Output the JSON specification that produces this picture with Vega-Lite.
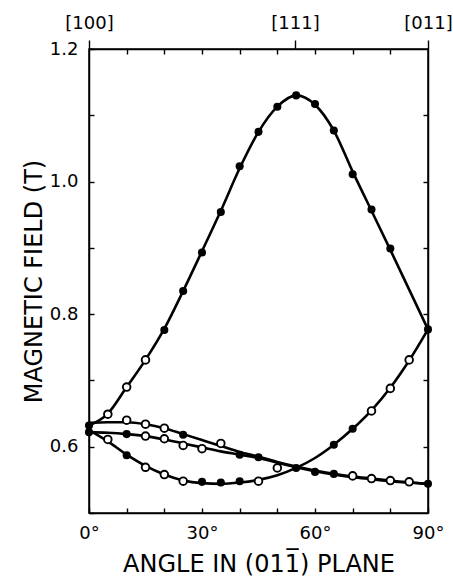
{
  "$schema": "https://vega.github.io/schema/vega-lite/v6.json",
  "autosize": "none",
  "width": 339,
  "height": 464,
  "padding": {"left": 89, "top": 49, "right": 25, "bottom": 67},
  "background": "white",
  "config": {
    "view": {"stroke": "black", "strokeWidth": 1.5},
    "axis": {"domainColor": "black", "domainWidth": 1.5, "tickColor": "black", "tickWidth": 1.4, "labelColor": "black", "titleColor": "black", "labelFont": "DejaVu Sans", "titleFont": "DejaVu Sans", "labelFontSize": 18, "titleFontSize": 24, "titleFontWeight": "normal", "grid": false, "labelOverlap": false, "labelFlush": false}
  },
  "datasets": {
    "curves": [
      {"curve": "A", "angle": 0, "field": 0.632}, {"curve": "A", "angle": 5, "field": 0.650}, {"curve": "A", "angle": 10, "field": 0.690}, {"curve": "A", "angle": 15, "field": 0.731}, {"curve": "A", "angle": 20, "field": 0.778}, {"curve": "A", "angle": 25, "field": 0.835}, {"curve": "A", "angle": 30, "field": 0.895}, {"curve": "A", "angle": 35, "field": 0.956}, {"curve": "A", "angle": 40, "field": 1.020}, {"curve": "A", "angle": 45, "field": 1.075}, {"curve": "A", "angle": 50, "field": 1.113}, {"curve": "A", "angle": 55, "field": 1.130}, {"curve": "A", "angle": 60, "field": 1.116}, {"curve": "A", "angle": 65, "field": 1.077}, {"curve": "A", "angle": 70, "field": 1.015}, {"curve": "A", "angle": 75, "field": 0.956}, {"curve": "A", "angle": 80, "field": 0.897}, {"curve": "A", "angle": 85, "field": 0.837}, {"curve": "A", "angle": 90, "field": 0.777},
      {"curve": "B", "angle": 0, "field": 0.625}, {"curve": "B", "angle": 5, "field": 0.608}, {"curve": "B", "angle": 10, "field": 0.588}, {"curve": "B", "angle": 15, "field": 0.571}, {"curve": "B", "angle": 20, "field": 0.558}, {"curve": "B", "angle": 25, "field": 0.549}, {"curve": "B", "angle": 30, "field": 0.545}, {"curve": "B", "angle": 35, "field": 0.544}, {"curve": "B", "angle": 40, "field": 0.546}, {"curve": "B", "angle": 45, "field": 0.550}, {"curve": "B", "angle": 50, "field": 0.557}, {"curve": "B", "angle": 55, "field": 0.568}, {"curve": "B", "angle": 60, "field": 0.583}, {"curve": "B", "angle": 65, "field": 0.603}, {"curve": "B", "angle": 70, "field": 0.627}, {"curve": "B", "angle": 75, "field": 0.655}, {"curve": "B", "angle": 80, "field": 0.689}, {"curve": "B", "angle": 85, "field": 0.730}, {"curve": "B", "angle": 90, "field": 0.777},
      {"curve": "C", "angle": 0, "field": 0.636}, {"curve": "C", "angle": 5, "field": 0.637}, {"curve": "C", "angle": 10, "field": 0.637}, {"curve": "C", "angle": 15, "field": 0.634}, {"curve": "C", "angle": 20, "field": 0.628}, {"curve": "C", "angle": 25, "field": 0.619}, {"curve": "C", "angle": 30, "field": 0.610}, {"curve": "C", "angle": 35, "field": 0.601}, {"curve": "C", "angle": 40, "field": 0.592}, {"curve": "C", "angle": 45, "field": 0.585}, {"curve": "C", "angle": 50, "field": 0.577}, {"curve": "C", "angle": 55, "field": 0.570}, {"curve": "C", "angle": 60, "field": 0.564}, {"curve": "C", "angle": 65, "field": 0.559}, {"curve": "C", "angle": 70, "field": 0.555}, {"curve": "C", "angle": 75, "field": 0.552}, {"curve": "C", "angle": 80, "field": 0.549}, {"curve": "C", "angle": 85, "field": 0.546}, {"curve": "C", "angle": 90, "field": 0.544},
      {"curve": "D", "angle": 0, "field": 0.622}, {"curve": "D", "angle": 5, "field": 0.621}, {"curve": "D", "angle": 10, "field": 0.619}, {"curve": "D", "angle": 15, "field": 0.616}, {"curve": "D", "angle": 20, "field": 0.611}, {"curve": "D", "angle": 25, "field": 0.605}, {"curve": "D", "angle": 30, "field": 0.599}, {"curve": "D", "angle": 35, "field": 0.593}, {"curve": "D", "angle": 40, "field": 0.588}, {"curve": "D", "angle": 45, "field": 0.583}, {"curve": "D", "angle": 50, "field": 0.576}, {"curve": "D", "angle": 55, "field": 0.569}, {"curve": "D", "angle": 60, "field": 0.563}, {"curve": "D", "angle": 65, "field": 0.558}, {"curve": "D", "angle": 70, "field": 0.554}, {"curve": "D", "angle": 75, "field": 0.551}, {"curve": "D", "angle": 80, "field": 0.548}, {"curve": "D", "angle": 85, "field": 0.546}, {"curve": "D", "angle": 90, "field": 0.544}
    ],
    "filled": [
      {"angle": 0, "field": 0.632}, {"angle": 0, "field": 0.622},
      {"angle": 10, "field": 0.619}, {"angle": 10, "field": 0.587},
      {"angle": 20, "field": 0.776}, {"angle": 25, "field": 0.835}, {"angle": 25, "field": 0.618},
      {"angle": 30, "field": 0.893}, {"angle": 30, "field": 0.547},
      {"angle": 35, "field": 0.954}, {"angle": 35, "field": 0.546},
      {"angle": 40, "field": 1.023}, {"angle": 40, "field": 0.588}, {"angle": 40, "field": 0.548},
      {"angle": 45, "field": 1.075}, {"angle": 45, "field": 0.584},
      {"angle": 50, "field": 1.113},
      {"angle": 55, "field": 1.130}, {"angle": 55, "field": 0.568},
      {"angle": 60, "field": 1.117}, {"angle": 60, "field": 0.562},
      {"angle": 65, "field": 1.077}, {"angle": 65, "field": 0.559}, {"angle": 65, "field": 0.603},
      {"angle": 70, "field": 1.011}, {"angle": 70, "field": 0.627},
      {"angle": 75, "field": 0.958}, {"angle": 80, "field": 0.899},
      {"angle": 90, "field": 0.777}, {"angle": 90, "field": 0.544}
    ],
    "open": [
      {"angle": 5, "field": 0.649}, {"angle": 5, "field": 0.611},
      {"angle": 10, "field": 0.690}, {"angle": 10, "field": 0.640},
      {"angle": 15, "field": 0.731}, {"angle": 15, "field": 0.634}, {"angle": 15, "field": 0.616}, {"angle": 15, "field": 0.569},
      {"angle": 20, "field": 0.628}, {"angle": 20, "field": 0.612}, {"angle": 20, "field": 0.558},
      {"angle": 25, "field": 0.602}, {"angle": 25, "field": 0.548},
      {"angle": 30, "field": 0.597},
      {"angle": 35, "field": 0.605},
      {"angle": 45, "field": 0.548},
      {"angle": 50, "field": 0.568},
      {"angle": 70, "field": 0.556},
      {"angle": 75, "field": 0.552}, {"angle": 75, "field": 0.654},
      {"angle": 80, "field": 0.549}, {"angle": 80, "field": 0.688},
      {"angle": 85, "field": 0.547}, {"angle": 85, "field": 0.731}
    ]
  },
  "layer": [
    {
      "data": {"name": "curves"},
      "mark": {"type": "line", "interpolate": "monotone", "color": "black", "strokeWidth": 2.6},
      "encoding": {
        "x": {"field": "angle", "type": "quantitative", "scale": {"domain": [0, 90], "nice": false, "zero": false},
              "axis": {"orient": "bottom", "values": [0, 10, 20, 30, 40, 50, 60, 70, 80, 90], "tickSize": -5, "labelPadding": 16,
                       "labelExpr": "datum.value % 30 == 0 ? datum.value + '°' : ''", "title": "ANGLE IN (011̅) PLANE", "titlePadding": 10}},
        "y": {"field": "field", "type": "quantitative", "scale": {"domain": [0.5, 1.2], "nice": false, "zero": false},
              "axis": {"orient": "left", "values": [0.5, 0.6, 0.7, 0.8, 0.9, 1.0, 1.1, 1.2], "tickSize": -5, "labelPadding": 16,
                       "labelExpr": "round(datum.value * 10) % 2 == 0 ? format(datum.value, '.1f') : ''", "title": "MAGNETIC FIELD (T)", "titlePadding": 3}},
        "detail": {"field": "curve"}
      }
    },
    {
      "data": {"name": "filled"},
      "mark": {"type": "point", "shape": "circle", "filled": true, "color": "black", "size": 65, "opacity": 1},
      "encoding": {
        "x": {"field": "angle", "type": "quantitative", "scale": {"domain": [0, 90], "nice": false, "zero": false},
              "axis": {"orient": "top", "values": [10, 20, 30, 40, 50, 60, 70, 80], "tickSize": -5, "labels": false, "title": null}},
        "y": {"field": "field", "type": "quantitative", "scale": {"domain": [0.5, 1.2], "nice": false, "zero": false},
              "axis": {"orient": "right", "values": [0.6, 0.7, 0.8, 0.9, 1.0, 1.1], "tickSize": -5, "labels": false, "title": null}}
      }
    },
    {
      "data": {"name": "open"},
      "mark": {"type": "point", "shape": "circle", "filled": false, "fill": "white", "stroke": "black", "strokeWidth": 1.9, "size": 58, "opacity": 1, "fillOpacity": 1},
      "encoding": {
        "x": {"field": "angle", "type": "quantitative", "scale": {"domain": [0, 90], "nice": false, "zero": false},
              "axis": {"orient": "top", "values": [0, 54.7, 90], "tickSize": 9, "labelPadding": 8, "domain": false,
                       "labelExpr": "datum.value == 0 ? '[100]' : (datum.value == 90 ? '[011]' : '[111]')", "title": null}},
        "y": {"field": "field", "type": "quantitative", "scale": {"domain": [0.5, 1.2], "nice": false, "zero": false}, "axis": null}
      }
    }
  ],
  "resolve": {"axis": {"x": "independent", "y": "independent"}}
}
